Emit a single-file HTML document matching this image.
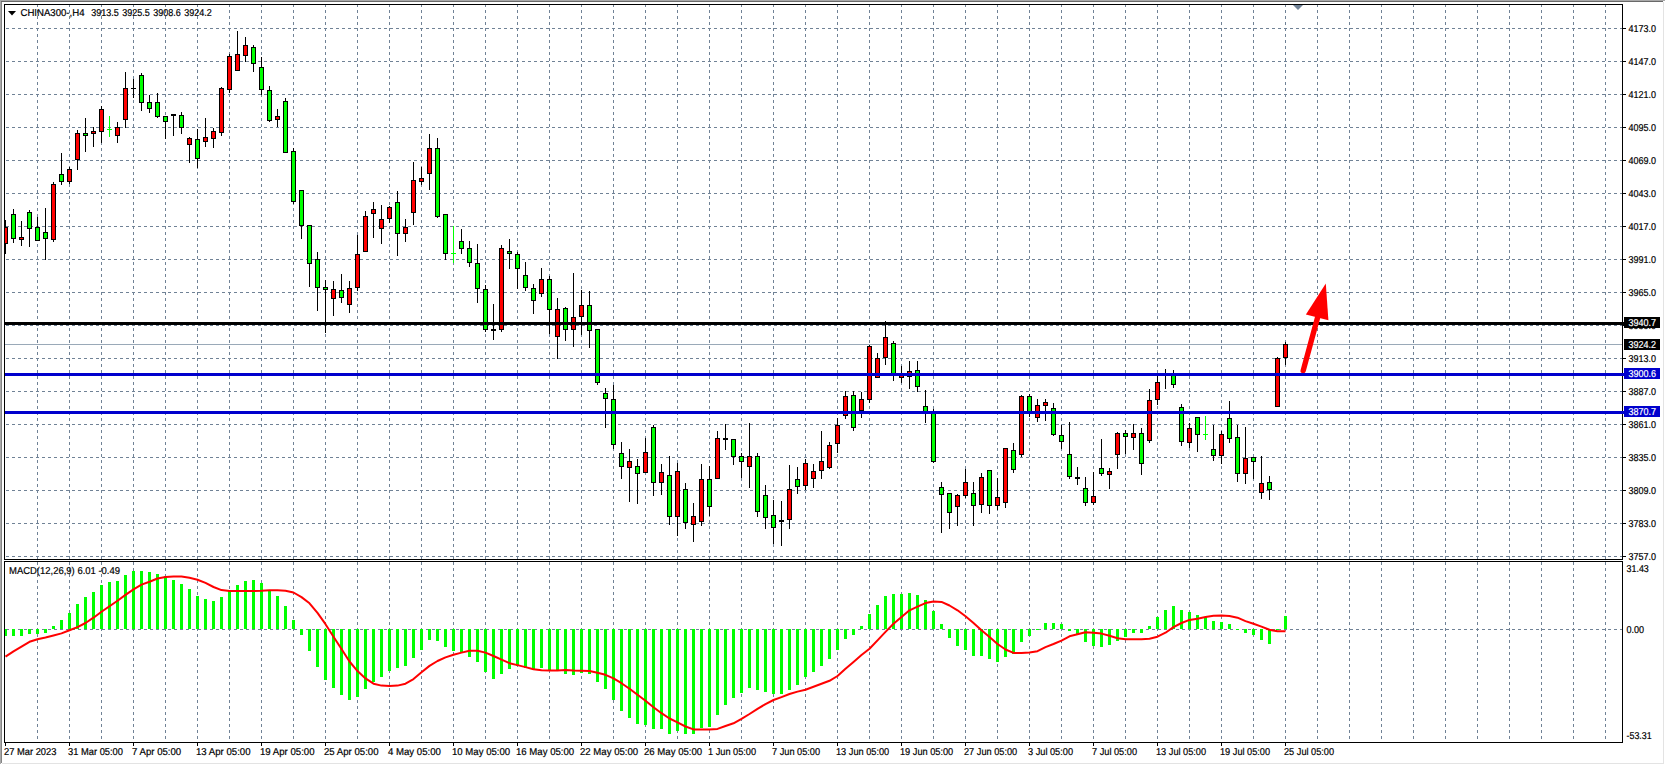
<!DOCTYPE html>
<html lang="en"><head><meta charset="utf-8"><title>CHINA300-,H4</title>
<style>html,body{margin:0;padding:0;background:#fff;overflow:hidden}svg{display:block}text{font-family:"Liberation Sans",Arial,sans-serif;font-size:10px;fill:#000;stroke:#000;stroke-width:.2px}.w{fill:#fff;stroke:#fff}</style></head><body>
<svg width="1665" height="765" viewBox="0 0 1665 765" shape-rendering="crispEdges">
<rect width="1665" height="765" fill="#fff"/>
<rect x="1663" y="2" width="1" height="761" fill="#e3e3e3"/>
<rect x="2" y="763" width="1662" height="1" fill="#e3e3e3"/>
<rect x="0" y="0" width="1" height="764" fill="#a9a9a9"/>
<rect x="1" y="0" width="1" height="763" fill="#858585"/>
<rect x="0" y="0" width="1665" height="1" fill="#a9a9a9"/>
<rect x="1" y="1" width="1662" height="1" fill="#696969"/>
<path d="M6 28.5H1622M6 61.5H1622M6 94.5H1622M6 127.5H1622M6 160.5H1622M6 193.5H1622M6 226.5H1622M6 259.5H1622M6 292.5H1622M6 325.5H1622M6 358.5H1622M6 391.5H1622M6 424.5H1622M6 457.5H1622M6 490.5H1622M6 523.5H1622M6 556.5H1622M6 629.5H1622" stroke="#708296" stroke-width="1" stroke-dasharray="3 3" fill="none"/>
<path d="M37.5 4V559M37.5 562V742M69.5 4V559M69.5 562V742M101.5 4V559M101.5 562V742M133.5 4V559M133.5 562V742M165.5 4V559M165.5 562V742M197.5 4V559M197.5 562V742M229.5 4V559M229.5 562V742M261.5 4V559M261.5 562V742M293.5 4V559M293.5 562V742M325.5 4V559M325.5 562V742M357.5 4V559M357.5 562V742M389.5 4V559M389.5 562V742M421.5 4V559M421.5 562V742M453.5 4V559M453.5 562V742M485.5 4V559M485.5 562V742M517.5 4V559M517.5 562V742M549.5 4V559M549.5 562V742M581.5 4V559M581.5 562V742M613.5 4V559M613.5 562V742M645.5 4V559M645.5 562V742M677.5 4V559M677.5 562V742M709.5 4V559M709.5 562V742M741.5 4V559M741.5 562V742M773.5 4V559M773.5 562V742M805.5 4V559M805.5 562V742M837.5 4V559M837.5 562V742M869.5 4V559M869.5 562V742M901.5 4V559M901.5 562V742M933.5 4V559M933.5 562V742M965.5 4V559M965.5 562V742M997.5 4V559M997.5 562V742M1029.5 4V559M1029.5 562V742M1061.5 4V559M1061.5 562V742M1093.5 4V559M1093.5 562V742M1125.5 4V559M1125.5 562V742M1157.5 4V559M1157.5 562V742M1189.5 4V559M1189.5 562V742M1221.5 4V559M1221.5 562V742M1253.5 4V559M1253.5 562V742M1285.5 4V559M1285.5 562V742M1317.5 4V559M1317.5 562V742M1349.5 4V559M1349.5 562V742M1381.5 4V559M1381.5 562V742M1413.5 4V559M1413.5 562V742M1445.5 4V559M1445.5 562V742M1477.5 4V559M1477.5 562V742M1509.5 4V559M1509.5 562V742M1541.5 4V559M1541.5 562V742M1573.5 4V559M1573.5 562V742M1605.5 4V559M1605.5 562V742" stroke="#708296" stroke-width="1" stroke-dasharray="3 3" fill="none"/>
<rect x="5" y="344" width="1618" height="1" fill="#9aa9b8"/>
<clipPath id="cm"><rect x="5" y="5" width="1617" height="554"/></clipPath><g clip-path="url(#cm)">
<path d="M5.5 220V254M13.5 209V243M21.5 221V246M29.5 210V247M37.5 217V240M45.5 208V260M53.5 182V242M61.5 153V185M69.5 167V184M77.5 130V170M85.5 118V152M93.5 127V147M101.5 106V143M117.5 122V143M125.5 72V128M133.5 79V98M131 88.5H136M141.5 73V111M149.5 95V113M157.5 93V118M165.5 116V139M173.5 114V136M181.5 112V134M189.5 137V163M197.5 129V168M205.5 118V147M213.5 128V148M221.5 87V136M229.5 54V93M237.5 31V70M245.5 37V62M253.5 45V72M261.5 57V95M269.5 86V122M277.5 109V127M285.5 98V152M293.5 148V204M301.5 190V239M309.5 225V287M317.5 252V311M325.5 280V333M333.5 281V316M341.5 274V303M349.5 281V313M357.5 235V291M365.5 211V252M373.5 202V238M381.5 205V244M389.5 206V223M397.5 191V256M405.5 219V242M413.5 162V225M421.5 167V185M429.5 134V190M437.5 138V218M445.5 214V260M461.5 229V254M469.5 241V267M477.5 244V303M485.5 285V332M493.5 304V340M501.5 245V332M509.5 239V269M517.5 252V289M525.5 262V291M533.5 284V314M541.5 268V297M549.5 276V334M557.5 298V359M565.5 307V341M573.5 273V347M581.5 290V335M589.5 291V348M597.5 329V385M605.5 388V428M613.5 385V449M621.5 442V479M629.5 449V502M637.5 459V504M645.5 438V472M653.5 425V496M661.5 464V495M669.5 456V525M677.5 463V536M685.5 483V529M693.5 503V542M701.5 464V526M709.5 466V516M717.5 431V479M725.5 424V450M733.5 439V465M741.5 453V478M749.5 423V488M757.5 453V517M765.5 485V529M773.5 500V544M781.5 501V546M789.5 465V529M797.5 467V494M805.5 459V490M813.5 464V488M821.5 431V479M829.5 442V469M837.5 418V453M845.5 391V419M853.5 391V431M861.5 392V418M869.5 345V403M877.5 353V378M885.5 321V365M893.5 341V381M901.5 366V383M909.5 361V389M917.5 361V392M925.5 390V423M933.5 409V463M941.5 482V533M949.5 493V529M957.5 494V526M965.5 469V498M973.5 482V526M981.5 473V513M989.5 470V514M997.5 478V510M1005.5 448V508M1013.5 443V473M1021.5 395V457M1029.5 394V417M1037.5 399V422M1045.5 399V421M1053.5 403V436M1061.5 425V449M1069.5 422V479M1077.5 467V485M1085.5 477V506M1093.5 472V505M1101.5 439V476M1109.5 468V489M1117.5 432V469M1125.5 430V454M1133.5 424V450M1141.5 428V475M1149.5 389V443M1157.5 375V405M1165.5 369V389M1163 374.5H1168M1173.5 370V388M1181.5 404V446M1189.5 423V448M1197.5 417V452M1213.5 425V461M1221.5 431V464M1229.5 401V443M1237.5 425V482M1245.5 427V484M1253.5 457V479M1261.5 456V499M1269.5 476V500M1277.5 357V406M1285.5 342V365" stroke="#000" stroke-width="1" fill="none"/>
<path d="M109.5 116V137M107 129.5H112M453.5 226V263M451 253.5H456M1205.5 416V440M1203 434.5H1208" stroke="#0f0" stroke-width="1" fill="none"/>
<rect x="3" y="227" width="5" height="17" fill="#000"/><rect x="4" y="228" width="3" height="15" fill="#f00"/><rect x="11" y="214" width="5" height="25" fill="#000"/><rect x="12" y="215" width="3" height="23" fill="#0f0"/><rect x="19" y="237" width="5" height="3" fill="#000"/><rect x="20" y="238" width="3" height="1" fill="#f00"/><rect x="27" y="212" width="5" height="17" fill="#000"/><rect x="28" y="213" width="3" height="15" fill="#0f0"/><rect x="35" y="227" width="5" height="14" fill="#000"/><rect x="36" y="228" width="3" height="12" fill="#0f0"/><rect x="43" y="232" width="5" height="7" fill="#000"/><rect x="44" y="233" width="3" height="5" fill="#0f0"/><rect x="51" y="184" width="5" height="56" fill="#000"/><rect x="52" y="185" width="3" height="54" fill="#f00"/><rect x="59" y="174" width="5" height="8" fill="#000"/><rect x="60" y="175" width="3" height="6" fill="#0f0"/><rect x="67" y="169" width="5" height="13" fill="#000"/><rect x="68" y="170" width="3" height="11" fill="#f00"/><rect x="75" y="133" width="5" height="27" fill="#000"/><rect x="76" y="134" width="3" height="25" fill="#f00"/><rect x="83" y="133" width="5" height="3" fill="#000"/><rect x="84" y="134" width="3" height="1" fill="#0f0"/><rect x="91" y="131" width="5" height="3" fill="#000"/><rect x="92" y="132" width="3" height="1" fill="#f00"/><rect x="99" y="109" width="5" height="23" fill="#000"/><rect x="100" y="110" width="3" height="21" fill="#f00"/><rect x="115" y="127" width="5" height="9" fill="#000"/><rect x="116" y="128" width="3" height="7" fill="#f00"/><rect x="123" y="88" width="5" height="32" fill="#000"/><rect x="124" y="89" width="3" height="30" fill="#f00"/><rect x="139" y="75" width="5" height="28" fill="#000"/><rect x="140" y="76" width="3" height="26" fill="#0f0"/><rect x="147" y="102" width="5" height="7" fill="#000"/><rect x="148" y="103" width="3" height="5" fill="#0f0"/><rect x="155" y="102" width="5" height="15" fill="#000"/><rect x="156" y="103" width="3" height="13" fill="#0f0"/><rect x="163" y="116" width="5" height="6" fill="#000"/><rect x="164" y="117" width="3" height="4" fill="#0f0"/><rect x="171" y="114" width="5" height="2" fill="#000"/><rect x="179" y="115" width="5" height="13" fill="#000"/><rect x="180" y="116" width="3" height="11" fill="#0f0"/><rect x="187" y="138" width="5" height="7" fill="#000"/><rect x="188" y="139" width="3" height="5" fill="#f00"/><rect x="195" y="139" width="5" height="20" fill="#000"/><rect x="196" y="140" width="3" height="18" fill="#0f0"/><rect x="203" y="137" width="5" height="5" fill="#000"/><rect x="204" y="138" width="3" height="3" fill="#f00"/><rect x="211" y="131" width="5" height="8" fill="#000"/><rect x="212" y="132" width="3" height="6" fill="#f00"/><rect x="219" y="88" width="5" height="45" fill="#000"/><rect x="220" y="89" width="3" height="43" fill="#f00"/><rect x="227" y="56" width="5" height="34" fill="#000"/><rect x="228" y="57" width="3" height="32" fill="#f00"/><rect x="235" y="54" width="5" height="17" fill="#000"/><rect x="236" y="55" width="3" height="15" fill="#f00"/><rect x="243" y="45" width="5" height="11" fill="#000"/><rect x="244" y="46" width="3" height="9" fill="#f00"/><rect x="251" y="47" width="5" height="17" fill="#000"/><rect x="252" y="48" width="3" height="15" fill="#0f0"/><rect x="259" y="67" width="5" height="23" fill="#000"/><rect x="260" y="68" width="3" height="21" fill="#0f0"/><rect x="267" y="90" width="5" height="31" fill="#000"/><rect x="268" y="91" width="3" height="29" fill="#0f0"/><rect x="275" y="116" width="5" height="4" fill="#000"/><rect x="276" y="117" width="3" height="2" fill="#f00"/><rect x="283" y="101" width="5" height="52" fill="#000"/><rect x="284" y="102" width="3" height="50" fill="#0f0"/><rect x="291" y="151" width="5" height="51" fill="#000"/><rect x="292" y="152" width="3" height="49" fill="#0f0"/><rect x="299" y="190" width="5" height="36" fill="#000"/><rect x="300" y="191" width="3" height="34" fill="#0f0"/><rect x="307" y="225" width="5" height="39" fill="#000"/><rect x="308" y="226" width="3" height="37" fill="#0f0"/><rect x="315" y="259" width="5" height="29" fill="#000"/><rect x="316" y="260" width="3" height="27" fill="#0f0"/><rect x="323" y="287" width="5" height="3" fill="#000"/><rect x="324" y="288" width="3" height="1" fill="#0f0"/><rect x="331" y="289" width="5" height="10" fill="#000"/><rect x="332" y="290" width="3" height="8" fill="#f00"/><rect x="339" y="290" width="5" height="8" fill="#000"/><rect x="340" y="291" width="3" height="6" fill="#0f0"/><rect x="347" y="288" width="5" height="17" fill="#000"/><rect x="348" y="289" width="3" height="15" fill="#f00"/><rect x="355" y="254" width="5" height="34" fill="#000"/><rect x="356" y="255" width="3" height="32" fill="#f00"/><rect x="363" y="216" width="5" height="36" fill="#000"/><rect x="364" y="217" width="3" height="34" fill="#f00"/><rect x="371" y="209" width="5" height="5" fill="#000"/><rect x="372" y="210" width="3" height="3" fill="#f00"/><rect x="379" y="219" width="5" height="10" fill="#000"/><rect x="380" y="220" width="3" height="8" fill="#f00"/><rect x="387" y="207" width="5" height="12" fill="#000"/><rect x="388" y="208" width="3" height="10" fill="#f00"/><rect x="395" y="202" width="5" height="32" fill="#000"/><rect x="396" y="203" width="3" height="30" fill="#0f0"/><rect x="403" y="227" width="5" height="7" fill="#000"/><rect x="404" y="228" width="3" height="5" fill="#f00"/><rect x="411" y="180" width="5" height="33" fill="#000"/><rect x="412" y="181" width="3" height="31" fill="#f00"/><rect x="419" y="178" width="5" height="4" fill="#000"/><rect x="420" y="179" width="3" height="2" fill="#f00"/><rect x="427" y="148" width="5" height="26" fill="#000"/><rect x="428" y="149" width="3" height="24" fill="#f00"/><rect x="435" y="148" width="5" height="69" fill="#000"/><rect x="436" y="149" width="3" height="67" fill="#0f0"/><rect x="443" y="214" width="5" height="40" fill="#000"/><rect x="444" y="215" width="3" height="38" fill="#0f0"/><rect x="459" y="241" width="5" height="8" fill="#000"/><rect x="460" y="242" width="3" height="6" fill="#0f0"/><rect x="467" y="248" width="5" height="15" fill="#000"/><rect x="468" y="249" width="3" height="13" fill="#0f0"/><rect x="475" y="263" width="5" height="26" fill="#000"/><rect x="476" y="264" width="3" height="24" fill="#0f0"/><rect x="483" y="289" width="5" height="41" fill="#000"/><rect x="484" y="290" width="3" height="39" fill="#0f0"/><rect x="491" y="329" width="5" height="2" fill="#000"/><rect x="499" y="248" width="5" height="82" fill="#000"/><rect x="500" y="249" width="3" height="80" fill="#f00"/><rect x="507" y="251" width="5" height="3" fill="#000"/><rect x="508" y="252" width="3" height="1" fill="#0f0"/><rect x="515" y="254" width="5" height="15" fill="#000"/><rect x="516" y="255" width="3" height="13" fill="#0f0"/><rect x="523" y="275" width="5" height="13" fill="#000"/><rect x="524" y="276" width="3" height="11" fill="#0f0"/><rect x="531" y="288" width="5" height="13" fill="#000"/><rect x="532" y="289" width="3" height="11" fill="#0f0"/><rect x="539" y="279" width="5" height="15" fill="#000"/><rect x="540" y="280" width="3" height="13" fill="#f00"/><rect x="547" y="279" width="5" height="31" fill="#000"/><rect x="548" y="280" width="3" height="29" fill="#0f0"/><rect x="555" y="309" width="5" height="28" fill="#000"/><rect x="556" y="310" width="3" height="26" fill="#f00"/><rect x="563" y="308" width="5" height="22" fill="#000"/><rect x="564" y="309" width="3" height="20" fill="#0f0"/><rect x="571" y="317" width="5" height="13" fill="#000"/><rect x="572" y="318" width="3" height="11" fill="#f00"/><rect x="579" y="305" width="5" height="12" fill="#000"/><rect x="580" y="306" width="3" height="10" fill="#f00"/><rect x="587" y="305" width="5" height="26" fill="#000"/><rect x="588" y="306" width="3" height="24" fill="#0f0"/><rect x="595" y="329" width="5" height="54" fill="#000"/><rect x="596" y="330" width="3" height="52" fill="#0f0"/><rect x="603" y="393" width="5" height="6" fill="#000"/><rect x="604" y="394" width="3" height="4" fill="#0f0"/><rect x="611" y="399" width="5" height="46" fill="#000"/><rect x="612" y="400" width="3" height="44" fill="#0f0"/><rect x="619" y="453" width="5" height="14" fill="#000"/><rect x="620" y="454" width="3" height="12" fill="#0f0"/><rect x="627" y="461" width="5" height="7" fill="#000"/><rect x="628" y="462" width="3" height="5" fill="#f00"/><rect x="635" y="466" width="5" height="8" fill="#000"/><rect x="636" y="467" width="3" height="6" fill="#0f0"/><rect x="643" y="452" width="5" height="21" fill="#000"/><rect x="644" y="453" width="3" height="19" fill="#f00"/><rect x="651" y="427" width="5" height="56" fill="#000"/><rect x="652" y="428" width="3" height="54" fill="#0f0"/><rect x="659" y="472" width="5" height="11" fill="#000"/><rect x="660" y="473" width="3" height="9" fill="#f00"/><rect x="667" y="475" width="5" height="42" fill="#000"/><rect x="668" y="476" width="3" height="40" fill="#0f0"/><rect x="675" y="471" width="5" height="46" fill="#000"/><rect x="676" y="472" width="3" height="44" fill="#f00"/><rect x="683" y="489" width="5" height="34" fill="#000"/><rect x="684" y="490" width="3" height="32" fill="#0f0"/><rect x="691" y="516" width="5" height="9" fill="#000"/><rect x="692" y="517" width="3" height="7" fill="#f00"/><rect x="699" y="479" width="5" height="43" fill="#000"/><rect x="700" y="480" width="3" height="41" fill="#f00"/><rect x="707" y="479" width="5" height="28" fill="#000"/><rect x="708" y="480" width="3" height="26" fill="#0f0"/><rect x="715" y="438" width="5" height="41" fill="#000"/><rect x="716" y="439" width="3" height="39" fill="#f00"/><rect x="723" y="438" width="5" height="2" fill="#000"/><rect x="731" y="439" width="5" height="18" fill="#000"/><rect x="732" y="440" width="3" height="16" fill="#0f0"/><rect x="739" y="456" width="5" height="6" fill="#000"/><rect x="740" y="457" width="3" height="4" fill="#0f0"/><rect x="747" y="456" width="5" height="11" fill="#000"/><rect x="748" y="457" width="3" height="9" fill="#f00"/><rect x="755" y="456" width="5" height="56" fill="#000"/><rect x="756" y="457" width="3" height="54" fill="#0f0"/><rect x="763" y="495" width="5" height="23" fill="#000"/><rect x="764" y="496" width="3" height="21" fill="#0f0"/><rect x="771" y="515" width="5" height="13" fill="#000"/><rect x="772" y="516" width="3" height="11" fill="#0f0"/><rect x="779" y="520" width="5" height="2" fill="#000"/><rect x="787" y="489" width="5" height="31" fill="#000"/><rect x="788" y="490" width="3" height="29" fill="#f00"/><rect x="795" y="479" width="5" height="8" fill="#000"/><rect x="796" y="480" width="3" height="6" fill="#0f0"/><rect x="803" y="463" width="5" height="23" fill="#000"/><rect x="804" y="464" width="3" height="21" fill="#f00"/><rect x="811" y="471" width="5" height="8" fill="#000"/><rect x="812" y="472" width="3" height="6" fill="#f00"/><rect x="819" y="461" width="5" height="10" fill="#000"/><rect x="820" y="462" width="3" height="8" fill="#f00"/><rect x="827" y="445" width="5" height="23" fill="#000"/><rect x="828" y="446" width="3" height="21" fill="#f00"/><rect x="835" y="425" width="5" height="19" fill="#000"/><rect x="836" y="426" width="3" height="17" fill="#f00"/><rect x="843" y="396" width="5" height="20" fill="#000"/><rect x="844" y="397" width="3" height="18" fill="#f00"/><rect x="851" y="395" width="5" height="33" fill="#000"/><rect x="852" y="396" width="3" height="31" fill="#0f0"/><rect x="859" y="399" width="5" height="12" fill="#000"/><rect x="860" y="400" width="3" height="10" fill="#f00"/><rect x="867" y="346" width="5" height="54" fill="#000"/><rect x="868" y="347" width="3" height="52" fill="#f00"/><rect x="875" y="358" width="5" height="20" fill="#000"/><rect x="876" y="359" width="3" height="18" fill="#f00"/><rect x="883" y="337" width="5" height="21" fill="#000"/><rect x="884" y="338" width="3" height="19" fill="#f00"/><rect x="891" y="343" width="5" height="32" fill="#000"/><rect x="892" y="344" width="3" height="30" fill="#0f0"/><rect x="899" y="373" width="5" height="5" fill="#000"/><rect x="900" y="374" width="3" height="3" fill="#f00"/><rect x="907" y="371" width="5" height="6" fill="#000"/><rect x="908" y="372" width="3" height="4" fill="#f00"/><rect x="915" y="370" width="5" height="17" fill="#000"/><rect x="916" y="371" width="3" height="15" fill="#0f0"/><rect x="923" y="406" width="5" height="6" fill="#000"/><rect x="924" y="407" width="3" height="4" fill="#0f0"/><rect x="931" y="411" width="5" height="51" fill="#000"/><rect x="932" y="412" width="3" height="49" fill="#0f0"/><rect x="939" y="487" width="5" height="8" fill="#000"/><rect x="940" y="488" width="3" height="6" fill="#0f0"/><rect x="947" y="493" width="5" height="20" fill="#000"/><rect x="948" y="494" width="3" height="18" fill="#0f0"/><rect x="955" y="495" width="5" height="12" fill="#000"/><rect x="956" y="496" width="3" height="10" fill="#f00"/><rect x="963" y="482" width="5" height="14" fill="#000"/><rect x="964" y="483" width="3" height="12" fill="#f00"/><rect x="971" y="493" width="5" height="13" fill="#000"/><rect x="972" y="494" width="3" height="11" fill="#0f0"/><rect x="979" y="477" width="5" height="28" fill="#000"/><rect x="980" y="478" width="3" height="26" fill="#f00"/><rect x="987" y="470" width="5" height="36" fill="#000"/><rect x="988" y="471" width="3" height="34" fill="#0f0"/><rect x="995" y="497" width="5" height="9" fill="#000"/><rect x="996" y="498" width="3" height="7" fill="#f00"/><rect x="1003" y="448" width="5" height="55" fill="#000"/><rect x="1004" y="449" width="3" height="53" fill="#f00"/><rect x="1011" y="450" width="5" height="20" fill="#000"/><rect x="1012" y="451" width="3" height="18" fill="#0f0"/><rect x="1019" y="396" width="5" height="59" fill="#000"/><rect x="1020" y="397" width="3" height="57" fill="#f00"/><rect x="1027" y="396" width="5" height="17" fill="#000"/><rect x="1028" y="397" width="3" height="15" fill="#0f0"/><rect x="1035" y="405" width="5" height="13" fill="#000"/><rect x="1036" y="406" width="3" height="11" fill="#f00"/><rect x="1043" y="402" width="5" height="4" fill="#000"/><rect x="1044" y="403" width="3" height="2" fill="#f00"/><rect x="1051" y="408" width="5" height="27" fill="#000"/><rect x="1052" y="409" width="3" height="25" fill="#0f0"/><rect x="1059" y="435" width="5" height="7" fill="#000"/><rect x="1060" y="436" width="3" height="5" fill="#0f0"/><rect x="1067" y="454" width="5" height="23" fill="#000"/><rect x="1068" y="455" width="3" height="21" fill="#0f0"/><rect x="1075" y="477" width="5" height="2" fill="#000"/><rect x="1083" y="488" width="5" height="15" fill="#000"/><rect x="1084" y="489" width="3" height="13" fill="#0f0"/><rect x="1091" y="496" width="5" height="7" fill="#000"/><rect x="1092" y="497" width="3" height="5" fill="#f00"/><rect x="1099" y="468" width="5" height="6" fill="#000"/><rect x="1100" y="469" width="3" height="4" fill="#0f0"/><rect x="1107" y="471" width="5" height="4" fill="#000"/><rect x="1108" y="472" width="3" height="2" fill="#f00"/><rect x="1115" y="433" width="5" height="22" fill="#000"/><rect x="1116" y="434" width="3" height="20" fill="#f00"/><rect x="1123" y="433" width="5" height="4" fill="#000"/><rect x="1124" y="434" width="3" height="2" fill="#0f0"/><rect x="1131" y="433" width="5" height="5" fill="#000"/><rect x="1132" y="434" width="3" height="3" fill="#f00"/><rect x="1139" y="433" width="5" height="31" fill="#000"/><rect x="1140" y="434" width="3" height="29" fill="#0f0"/><rect x="1147" y="400" width="5" height="41" fill="#000"/><rect x="1148" y="401" width="3" height="39" fill="#f00"/><rect x="1155" y="382" width="5" height="18" fill="#000"/><rect x="1156" y="383" width="3" height="16" fill="#f00"/><rect x="1171" y="374" width="5" height="11" fill="#000"/><rect x="1172" y="375" width="3" height="9" fill="#0f0"/><rect x="1179" y="407" width="5" height="35" fill="#000"/><rect x="1180" y="408" width="3" height="33" fill="#0f0"/><rect x="1187" y="428" width="5" height="15" fill="#000"/><rect x="1188" y="429" width="3" height="13" fill="#f00"/><rect x="1195" y="417" width="5" height="18" fill="#000"/><rect x="1196" y="418" width="3" height="16" fill="#0f0"/><rect x="1211" y="449" width="5" height="7" fill="#000"/><rect x="1212" y="450" width="3" height="5" fill="#0f0"/><rect x="1219" y="434" width="5" height="22" fill="#000"/><rect x="1220" y="435" width="3" height="20" fill="#f00"/><rect x="1227" y="418" width="5" height="21" fill="#000"/><rect x="1228" y="419" width="3" height="19" fill="#0f0"/><rect x="1235" y="437" width="5" height="37" fill="#000"/><rect x="1236" y="438" width="3" height="35" fill="#0f0"/><rect x="1243" y="458" width="5" height="16" fill="#000"/><rect x="1244" y="459" width="3" height="14" fill="#f00"/><rect x="1251" y="457" width="5" height="5" fill="#000"/><rect x="1252" y="458" width="3" height="3" fill="#0f0"/><rect x="1259" y="483" width="5" height="10" fill="#000"/><rect x="1260" y="484" width="3" height="8" fill="#f00"/><rect x="1267" y="482" width="5" height="8" fill="#000"/><rect x="1268" y="483" width="3" height="6" fill="#0f0"/><rect x="1275" y="358" width="5" height="49" fill="#000"/><rect x="1276" y="359" width="3" height="47" fill="#f00"/><rect x="1283" y="344" width="5" height="14" fill="#000"/><rect x="1284" y="345" width="3" height="12" fill="#f00"/>
</g>
<path d="M4 629h3V636h-3zM12 629h3V636h-3zM20 629h3V636h-3zM28 629h3V634h-3zM36 629h3V634h-3zM44 629h3V633h-3zM52 626h3V629h-3zM60 620h3V629h-3zM68 613h3V629h-3zM76 604h3V629h-3zM84 597h3V629h-3zM92 592h3V629h-3zM100 585h3V629h-3zM108 582h3V629h-3zM116 581h3V629h-3zM124 575h3V629h-3zM132 571h3V629h-3zM140 571h3V629h-3zM148 572h3V629h-3zM156 574h3V629h-3zM164 576h3V629h-3zM172 580h3V629h-3zM180 584h3V629h-3zM188 589h3V629h-3zM196 596h3V629h-3zM204 599h3V629h-3zM212 601h3V629h-3zM220 597h3V629h-3zM228 590h3V629h-3zM236 585h3V629h-3zM244 581h3V629h-3zM252 580h3V629h-3zM260 583h3V629h-3zM268 590h3V629h-3zM276 596h3V629h-3zM284 606h3V629h-3zM292 620h3V629h-3zM300 629h3V635h-3zM308 629h3V651h-3zM316 629h3V667h-3zM324 629h3V680h-3zM332 629h3V688h-3zM340 629h3V695h-3zM348 629h3V700h-3zM356 629h3V697h-3zM364 629h3V689h-3zM372 629h3V682h-3zM380 629h3V677h-3zM388 629h3V671h-3zM396 629h3V668h-3zM404 629h3V666h-3zM412 629h3V658h-3zM420 629h3V650h-3zM428 629h3V640h-3zM436 629h3V641h-3zM444 629h3V647h-3zM452 629h3V651h-3zM460 629h3V653h-3zM468 629h3V657h-3zM476 629h3V662h-3zM484 629h3V672h-3zM492 629h3V679h-3zM500 629h3V674h-3zM508 629h3V669h-3zM516 629h3V666h-3zM524 629h3V668h-3zM532 629h3V669h-3zM540 629h3V668h-3zM548 629h3V670h-3zM556 629h3V671h-3zM564 629h3V674h-3zM572 629h3V675h-3zM580 629h3V673h-3zM588 629h3V674h-3zM596 629h3V682h-3zM604 629h3V689h-3zM612 629h3V700h-3zM620 629h3V711h-3zM628 629h3V718h-3zM636 629h3V724h-3zM644 629h3V725h-3zM652 629h3V729h-3zM660 629h3V729h-3zM668 629h3V734h-3zM676 629h3V731h-3zM684 629h3V734h-3zM692 629h3V734h-3zM700 629h3V728h-3zM708 629h3V727h-3zM716 629h3V715h-3zM724 629h3V705h-3zM732 629h3V698h-3zM740 629h3V693h-3zM748 629h3V688h-3zM756 629h3V690h-3zM764 629h3V692h-3zM772 629h3V694h-3zM780 629h3V694h-3zM788 629h3V690h-3zM796 629h3V685h-3zM804 629h3V677h-3zM812 629h3V672h-3zM820 629h3V666h-3zM828 629h3V659h-3zM836 629h3V650h-3zM844 629h3V639h-3zM852 629h3V635h-3zM860 626h3V629h-3zM868 614h3V629h-3zM876 605h3V629h-3zM884 596h3V629h-3zM892 594h3V629h-3zM900 594h3V629h-3zM908 593h3V629h-3zM916 595h3V629h-3zM924 600h3V629h-3zM932 611h3V629h-3zM940 624h3V629h-3zM948 629h3V638h-3zM956 629h3V646h-3zM964 629h3V650h-3zM972 629h3V656h-3zM980 629h3V656h-3zM988 629h3V659h-3zM996 629h3V662h-3zM1004 629h3V657h-3zM1012 629h3V654h-3zM1020 629h3V642h-3zM1028 629h3V636h-3zM1036 629h3v1h-3zM1044 623h3V629h-3zM1052 623h3V629h-3zM1060 624h3V629h-3zM1068 629h3V631h-3zM1076 629h3V634h-3zM1084 629h3V642h-3zM1092 629h3V646h-3zM1100 629h3V647h-3zM1108 629h3V645h-3zM1116 629h3V641h-3zM1124 629h3V637h-3zM1132 629h3V633h-3zM1140 629h3V633h-3zM1148 626h3V629h-3zM1156 617h3V629h-3zM1164 610h3V629h-3zM1172 606h3V629h-3zM1180 610h3V629h-3zM1188 612h3V629h-3zM1196 615h3V629h-3zM1204 617h3V629h-3zM1212 621h3V629h-3zM1220 622h3V629h-3zM1228 624h3V629h-3zM1236 629h3v1h-3zM1244 629h3V633h-3zM1252 629h3V635h-3zM1260 629h3V640h-3zM1268 629h3V644h-3zM1276 629h3v1h-3zM1284 616h3V629h-3z" fill="#0f0"/>
<polyline points="5.5,656.7 13.5,651.4 21.5,646.6 29.5,641.8 37.5,639.2 45.5,637.5 53.5,635.5 61.5,633.4 69.5,630.3 77.5,627.1 85.5,623.0 93.5,617.7 101.5,611.7 109.5,606.2 117.5,600.7 125.5,594.9 133.5,589.4 141.5,584.6 149.5,581.7 157.5,578.5 165.5,576.9 173.5,576.4 181.5,576.6 189.5,577.8 197.5,579.7 205.5,582.9 213.5,587.0 221.5,590.1 229.5,591.0 237.5,591.0 245.5,591.0 253.5,591.0 261.5,590.8 269.5,590.3 277.5,590.3 285.5,590.8 293.5,592.5 301.5,597.1 309.5,603.3 317.5,612.9 325.5,624.2 333.5,636.7 341.5,649.0 349.5,661.5 357.5,671.1 365.5,678.4 373.5,683.7 381.5,685.6 389.5,686.1 397.5,685.6 405.5,683.7 413.5,679.1 421.5,672.3 429.5,665.9 437.5,661.0 445.5,657.4 453.5,654.8 461.5,652.6 469.5,650.7 477.5,650.7 485.5,652.6 493.5,656.0 501.5,659.6 509.5,663.2 517.5,665.1 525.5,667.1 533.5,669.2 541.5,670.2 549.5,670.4 557.5,670.4 565.5,669.9 573.5,670.4 581.5,670.7 589.5,671.1 597.5,672.8 605.5,674.8 613.5,678.4 621.5,683.2 629.5,688.7 637.5,694.7 645.5,700.7 653.5,707.2 661.5,713.2 669.5,718.5 677.5,722.4 685.5,726.5 693.5,729.4 701.5,729.6 709.5,729.6 717.5,728.9 725.5,726.0 733.5,723.3 741.5,718.8 749.5,714.0 757.5,708.9 765.5,704.1 773.5,700.0 781.5,697.1 789.5,694.0 797.5,691.6 805.5,689.7 813.5,686.8 821.5,683.7 829.5,680.8 837.5,676.0 845.5,668.7 853.5,662.0 861.5,655.0 869.5,648.8 877.5,640.4 885.5,631.9 893.5,623.8 901.5,617.0 909.5,610.3 917.5,606.7 925.5,603.1 933.5,601.4 941.5,601.9 949.5,605.5 957.5,610.3 965.5,616.3 973.5,623.0 981.5,630.3 989.5,637.0 997.5,644.0 1005.5,649.5 1013.5,652.9 1021.5,653.1 1029.5,652.6 1037.5,651.2 1045.5,647.1 1053.5,644.0 1061.5,640.6 1069.5,636.3 1077.5,634.3 1085.5,632.2 1093.5,632.7 1101.5,633.6 1109.5,635.8 1117.5,638.2 1125.5,639.2 1133.5,639.2 1141.5,639.2 1149.5,638.7 1157.5,636.7 1165.5,632.7 1173.5,627.1 1181.5,623.0 1189.5,619.9 1197.5,618.7 1205.5,617.0 1213.5,615.8 1221.5,615.6 1229.5,616.1 1237.5,617.7 1245.5,621.1 1253.5,623.8 1261.5,626.6 1269.5,629.8 1277.5,631.2 1285.5,631.2" fill="none" stroke="#f00" stroke-width="2" stroke-linejoin="round" stroke-linecap="butt" shape-rendering="geometricPrecision"/>
<polygon points="1293,5 1303,5 1298,10" fill="#708296" shape-rendering="geometricPrecision"/>
<path d="M4.5 4V560M4.5 561V743M1622.5 4V560M1622.5 561V743M4 4.5H1623M4 559.5H1623M4 561.5H1623M4 742.5H1623" stroke="#000" stroke-width="1" fill="none"/>
<rect x="5" y="322" width="1619" height="3" fill="#000"/>
<g shape-rendering="geometricPrecision"><line x1="1303.2" y1="370.6" x2="1318" y2="316" stroke="#f00" stroke-width="5.4" stroke-linecap="round"/><polygon points="1325.8,283.6 1305.9,314.4 1328.4,320.3" fill="#f00"/></g>
<rect x="5" y="373" width="1619" height="3" fill="#0000cd"/>
<rect x="5" y="411" width="1619" height="3" fill="#0000cd"/>
<path d="M1623 28.5h3M1623 61.5h3M1623 94.5h3M1623 127.5h3M1623 160.5h3M1623 193.5h3M1623 226.5h3M1623 259.5h3M1623 292.5h3M1623 325.5h3M1623 358.5h3M1623 391.5h3M1623 424.5h3M1623 457.5h3M1623 490.5h3M1623 523.5h3M1623 556.5h3" stroke="#000" stroke-width="1" fill="none"/>
<g shape-rendering="geometricPrecision" text-rendering="geometricPrecision">
<text x="1628.5" y="32" textLength="27.5" lengthAdjust="spacingAndGlyphs">4173.0</text><text x="1628.5" y="65" textLength="27.5" lengthAdjust="spacingAndGlyphs">4147.0</text><text x="1628.5" y="98" textLength="27.5" lengthAdjust="spacingAndGlyphs">4121.0</text><text x="1628.5" y="131" textLength="27.5" lengthAdjust="spacingAndGlyphs">4095.0</text><text x="1628.5" y="164" textLength="27.5" lengthAdjust="spacingAndGlyphs">4069.0</text><text x="1628.5" y="197" textLength="27.5" lengthAdjust="spacingAndGlyphs">4043.0</text><text x="1628.5" y="230" textLength="27.5" lengthAdjust="spacingAndGlyphs">4017.0</text><text x="1628.5" y="263" textLength="27.5" lengthAdjust="spacingAndGlyphs">3991.0</text><text x="1628.5" y="296" textLength="27.5" lengthAdjust="spacingAndGlyphs">3965.0</text><text x="1628.5" y="329" textLength="27.5" lengthAdjust="spacingAndGlyphs">3939.0</text><text x="1628.5" y="362" textLength="27.5" lengthAdjust="spacingAndGlyphs">3913.0</text><text x="1628.5" y="395" textLength="27.5" lengthAdjust="spacingAndGlyphs">3887.0</text><text x="1628.5" y="428" textLength="27.5" lengthAdjust="spacingAndGlyphs">3861.0</text><text x="1628.5" y="461" textLength="27.5" lengthAdjust="spacingAndGlyphs">3835.0</text><text x="1628.5" y="494" textLength="27.5" lengthAdjust="spacingAndGlyphs">3809.0</text><text x="1628.5" y="527" textLength="27.5" lengthAdjust="spacingAndGlyphs">3783.0</text><text x="1628.5" y="560" textLength="27.5" lengthAdjust="spacingAndGlyphs">3757.0</text>
<text x="1626.5" y="572" textLength="22.3" lengthAdjust="spacingAndGlyphs">31.43</text>
<text x="1626.5" y="633" textLength="17.6" lengthAdjust="spacingAndGlyphs">0.00</text>
<text x="1626.5" y="739" textLength="25.2" lengthAdjust="spacingAndGlyphs">-53.31</text>
<rect x="1624" y="317" width="36" height="11" fill="#000" shape-rendering="crispEdges"/>
<text class="w" x="1628.5" y="326" textLength="27.5" lengthAdjust="spacingAndGlyphs">3940.7</text>
<rect x="1624" y="339" width="36" height="11" fill="#000" shape-rendering="crispEdges"/>
<text class="w" x="1628.5" y="348" textLength="27.5" lengthAdjust="spacingAndGlyphs">3924.2</text>
<rect x="1624" y="368" width="36" height="11" fill="#0000cd" shape-rendering="crispEdges"/>
<text class="w" x="1628.5" y="377" textLength="27.5" lengthAdjust="spacingAndGlyphs">3900.6</text>
<rect x="1624" y="406" width="36" height="11" fill="#0000cd" shape-rendering="crispEdges"/>
<text class="w" x="1628.5" y="415" textLength="27.5" lengthAdjust="spacingAndGlyphs">3870.7</text>
<polygon points="8,11 16,11 12,15.5" fill="#000"/>
<text x="20.5" y="16" textLength="64" lengthAdjust="spacingAndGlyphs">CHINA300-,H4</text>
<text x="91.2" y="16" textLength="27.6" lengthAdjust="spacingAndGlyphs">3913.5</text>
<text x="122.2" y="16" textLength="27.6" lengthAdjust="spacingAndGlyphs">3925.5</text>
<text x="153.3" y="16" textLength="27.6" lengthAdjust="spacingAndGlyphs">3908.6</text>
<text x="184.3" y="16" textLength="27.6" lengthAdjust="spacingAndGlyphs">3924.2</text>
<text x="9" y="574" textLength="111" lengthAdjust="spacingAndGlyphs">MACD(12,26,9) 6.01 -0.49</text>
<text x="4" y="755" textLength="52.4" lengthAdjust="spacingAndGlyphs">27 Mar 2023</text>
<text x="68" y="755" textLength="55.0" lengthAdjust="spacingAndGlyphs">31 Mar 05:00</text>
<text x="132" y="755" textLength="49.2" lengthAdjust="spacingAndGlyphs">7 Apr 05:00</text>
<text x="196" y="755" textLength="54.5" lengthAdjust="spacingAndGlyphs">13 Apr 05:00</text>
<text x="260" y="755" textLength="54.5" lengthAdjust="spacingAndGlyphs">19 Apr 05:00</text>
<text x="324" y="755" textLength="54.5" lengthAdjust="spacingAndGlyphs">25 Apr 05:00</text>
<text x="388" y="755" textLength="52.9" lengthAdjust="spacingAndGlyphs">4 May 05:00</text>
<text x="452" y="755" textLength="58.2" lengthAdjust="spacingAndGlyphs">10 May 05:00</text>
<text x="516" y="755" textLength="58.2" lengthAdjust="spacingAndGlyphs">16 May 05:00</text>
<text x="580" y="755" textLength="58.2" lengthAdjust="spacingAndGlyphs">22 May 05:00</text>
<text x="644" y="755" textLength="58.2" lengthAdjust="spacingAndGlyphs">26 May 05:00</text>
<text x="708" y="755" textLength="48.1" lengthAdjust="spacingAndGlyphs">1 Jun 05:00</text>
<text x="772" y="755" textLength="48.1" lengthAdjust="spacingAndGlyphs">7 Jun 05:00</text>
<text x="836" y="755" textLength="53.2" lengthAdjust="spacingAndGlyphs">13 Jun 05:00</text>
<text x="900" y="755" textLength="53.2" lengthAdjust="spacingAndGlyphs">19 Jun 05:00</text>
<text x="964" y="755" textLength="53.2" lengthAdjust="spacingAndGlyphs">27 Jun 05:00</text>
<text x="1028" y="755" textLength="45.0" lengthAdjust="spacingAndGlyphs">3 Jul 05:00</text>
<text x="1092" y="755" textLength="45.0" lengthAdjust="spacingAndGlyphs">7 Jul 05:00</text>
<text x="1156" y="755" textLength="50.1" lengthAdjust="spacingAndGlyphs">13 Jul 05:00</text>
<text x="1220" y="755" textLength="50.1" lengthAdjust="spacingAndGlyphs">19 Jul 05:00</text>
<text x="1284" y="755" textLength="50.1" lengthAdjust="spacingAndGlyphs">25 Jul 05:00</text>
</g>
<path d="M5.5 743v3M69.5 743v3M133.5 743v3M197.5 743v3M261.5 743v3M325.5 743v3M389.5 743v3M453.5 743v3M517.5 743v3M581.5 743v3M645.5 743v3M709.5 743v3M773.5 743v3M837.5 743v3M901.5 743v3M965.5 743v3M1029.5 743v3M1093.5 743v3M1157.5 743v3M1221.5 743v3M1285.5 743v3" stroke="#000" stroke-width="1" fill="none"/>
</svg></body></html>
